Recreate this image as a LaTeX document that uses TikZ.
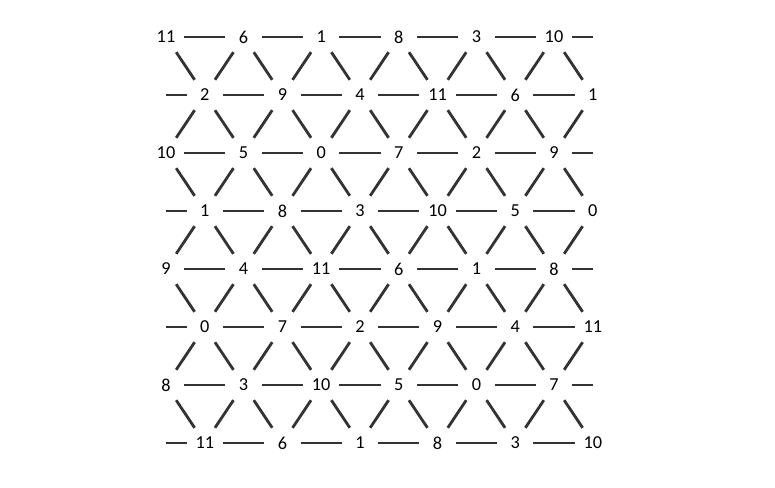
\documentclass[tikz,border=0pt]{standalone}
\usepackage{fontspec}
\setmainfont{Carlito}
\usepackage{tikz}
\usetikzlibrary{calc}
\definecolor{bar}{HTML}{333333}

\begin{document}
\begin{tikzpicture}[
  pitch/.style={circle,minimum size=0.9cm,inner sep=0pt,font=\fontsize{13}{15}\selectfont},
  link/.style={draw=bar,line width=2pt}]
\useasboundingbox (0,0) rectangle (19.375,12.175);
% row 0
\node[pitch] (p00) at (4.15,11.25) {11};
\node[pitch] (p01) at (6.09,11.25) {6};
\node[pitch] (p02) at (8.03,11.25) {1};
\node[pitch] (p03) at (9.97,11.25) {8};
\node[pitch] (p04) at (11.91,11.25) {3};
\node[pitch] (p05) at (13.85,11.25) {10};
% row 1
\node[pitch] (p10) at (5.12,9.80) {2};
\node[pitch] (p11) at (7.06,9.80) {9};
\node[pitch] (p12) at (9.00,9.80) {4};
\node[pitch] (p13) at (10.94,9.80) {11};
\node[pitch] (p14) at (12.88,9.80) {6};
\node[pitch] (p15) at (14.82,9.80) {1};
% row 2
\node[pitch] (p20) at (4.15,8.35) {10};
\node[pitch] (p21) at (6.09,8.35) {5};
\node[pitch] (p22) at (8.03,8.35) {0};
\node[pitch] (p23) at (9.97,8.35) {7};
\node[pitch] (p24) at (11.91,8.35) {2};
\node[pitch] (p25) at (13.85,8.35) {9};
% row 3
\node[pitch] (p30) at (5.12,6.90) {1};
\node[pitch] (p31) at (7.06,6.90) {8};
\node[pitch] (p32) at (9.00,6.90) {3};
\node[pitch] (p33) at (10.94,6.90) {10};
\node[pitch] (p34) at (12.88,6.90) {5};
\node[pitch] (p35) at (14.82,6.90) {0};
% row 4
\node[pitch] (p40) at (4.15,5.45) {9};
\node[pitch] (p41) at (6.09,5.45) {4};
\node[pitch] (p42) at (8.03,5.45) {11};
\node[pitch] (p43) at (9.97,5.45) {6};
\node[pitch] (p44) at (11.91,5.45) {1};
\node[pitch] (p45) at (13.85,5.45) {8};
% row 5
\node[pitch] (p50) at (5.12,4.00) {0};
\node[pitch] (p51) at (7.06,4.00) {7};
\node[pitch] (p52) at (9.00,4.00) {2};
\node[pitch] (p53) at (10.94,4.00) {9};
\node[pitch] (p54) at (12.88,4.00) {4};
\node[pitch] (p55) at (14.82,4.00) {11};
% row 6
\node[pitch] (p60) at (4.15,2.55) {8};
\node[pitch] (p61) at (6.09,2.55) {3};
\node[pitch] (p62) at (8.03,2.55) {10};
\node[pitch] (p63) at (9.97,2.55) {5};
\node[pitch] (p64) at (11.91,2.55) {0};
\node[pitch] (p65) at (13.85,2.55) {7};
% row 7
\node[pitch] (p70) at (5.12,1.10) {11};
\node[pitch] (p71) at (7.06,1.10) {6};
\node[pitch] (p72) at (9.00,1.10) {1};
\node[pitch] (p73) at (10.94,1.10) {8};
\node[pitch] (p74) at (12.88,1.10) {3};
\node[pitch] (p75) at (14.82,1.10) {10};
% loose ends at the edges
\coordinate (w1) at (4.15,9.80);
\coordinate (w3) at (4.15,6.90);
\coordinate (w5) at (4.15,4.00);
\coordinate (w7) at (4.15,1.10);
\coordinate (e0) at (14.82,11.25);
\coordinate (e2) at (14.82,8.35);
\coordinate (e4) at (14.82,5.45);
\coordinate (e6) at (14.82,2.55);
% rows
\foreach \r in {0,...,7} {
  \foreach \c [evaluate=\c as \nx using int(\c+1)] in {0,...,4}
    \draw[link] (p\r\c) -- (p\r\nx);
}
\foreach \r in {1,3,5,7} \draw[link] (w\r) -- (p\r0);
\foreach \r in {0,2,4,6} \draw[link] (p\r5) -- (e\r);
% slants, even row down to odd row
\foreach \r [evaluate=\r as \s using int(\r+1)] in {0,2,4,6} {
  \foreach \c in {0,...,5} \draw[link] (p\r\c) -- (p\s\c);
  \foreach \c [evaluate=\c as \b using int(\c-1)] in {1,...,5} \draw[link] (p\r\c) -- (p\s\b);
}
% slants, odd row down to even row
\foreach \r [evaluate=\r as \s using int(\r+1)] in {1,3,5} {
  \foreach \c in {0,...,5} \draw[link] (p\r\c) -- (p\s\c);
  \foreach \c [evaluate=\c as \b using int(\c+1)] in {0,...,4} \draw[link] (p\r\c) -- (p\s\b);
}
\end{tikzpicture}
\end{document}
